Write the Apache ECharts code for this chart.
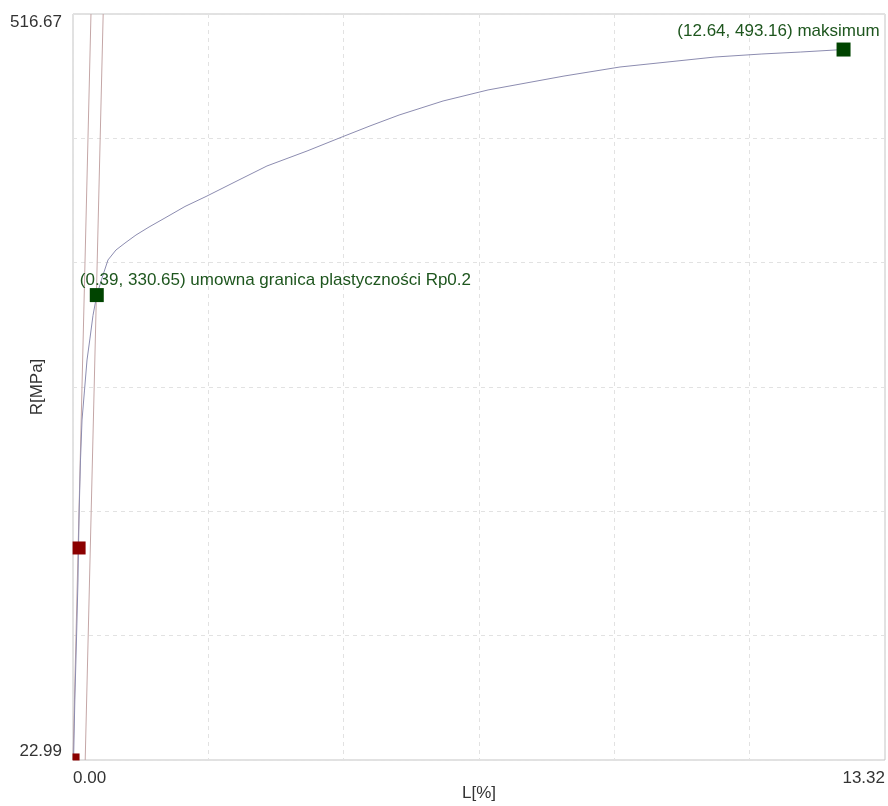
<!DOCTYPE html>
<html>
<head>
<meta charset="utf-8">
<title>R(L)</title>
<script src="https://cdn.jsdelivr.net/npm/echarts@6/dist/echarts.min.js"></script>
<style>
  html, body { margin: 0; padding: 0; background: #ffffff; }
  #chart { width: 888px; height: 806px; }
</style>
</head>
<body>
<div id="chart"></div>
<script>
// Tensile test curve: elongation L[%] vs stress R[MPa]
const strainPct = [0.01, 0.03, 0.057, 0.082, 0.09, 0.103, 0.123, 0.148, 0.189, 0.23, 0.279, 0.328, 0.39,
  0.492, 0.574, 0.705, 0.853, 1.033, 1.247, 1.509, 1.837, 2.182, 2.69, 3.182, 3.839, 4.413, 4.872, 5.348,
  6.07, 6.808, 8.054, 8.973, 10.53, 11.3, 11.93, 12.64];
const stressMPa = [24.3, 62.7, 102.4, 142.1, 163.9, 190.4, 221.5, 248.0, 267.8, 287.7, 302.2, 317.2, 330.65,
  343.9, 353.9, 360.5, 365.1, 370.4, 375.7, 381.7, 389.3, 395.9, 406.2, 416.1, 426.0, 435.3, 442.6, 449.8,
  459.1, 466.4, 475.6, 481.6, 488.2, 490.2, 491.5, 493.16];

// Elastic (modulus) line and the same line shifted by 0.2 %
const elasticX = [0.0, 0.295];
const elasticY = [22.99, 516.67];
const offsetX = [0.2, 0.495];
const offsetY = [22.99, 516.67];

// Characteristic points
const rpPoint = [0.39, 330.65];
const rpName = 'umowna granica plastyczności Rp0.2';
const maxPoint = [12.64, 493.16];
const maxName = 'maksimum';
const startPoints = [[0.10, 163.3], [0.05, 25.0]];

// Axis limits and tick labels
const xMin = 0, xMax = 13.32;
const yMin = 22.99, yMax = 516.67;
const xTickLabels = [0, 13.32];
const yTickLabels = [22.99, 516.67];
const xName = 'L[%]';
const yName = 'R[MPa]';

const FONT = 'Liberation Sans, Arial, Helvetica, sans-serif';
const FS = 17;
const pairs = (xs, ys) => xs.map((x, i) => [x, ys[i]]);
const fmtPoint = p => '(' + p[0].toFixed(2) + ', ' + p[1].toFixed(2) + ') ';

const chart = echarts.init(document.getElementById('chart'), null, { renderer: 'canvas' });

const dashed = { show: true, lineStyle: { color: '#e2e2e2', width: 1, type: [4, 4] } };

chart.setOption({
  animation: false,
  backgroundColor: '#ffffff',
  textStyle: { fontFamily: FONT },
  grid: {
    left: 73, top: 14, right: 3, bottom: 46,
    outerBoundsMode: 'none', containLabel: false,
    show: true, borderColor: '#c4c4c4', borderWidth: 1, backgroundColor: 'transparent'
  },
  xAxis: [{
    type: 'value', min: xMin, max: xMax, interval: (xMax - xMin) / 6,
    name: xName, nameLocation: 'middle', nameGap: 25, nameMoveOverlap: false,
    nameTextStyle: { fontSize: FS, color: '#333', fontFamily: FONT },
    axisLine: { show: false }, axisTick: { show: false },
    splitLine: dashed,
    axisLabel: {
      customValues: xTickLabels,
      formatter: v => v.toFixed(2),
      fontSize: FS, color: '#333', fontFamily: FONT, margin: 10,
      alignMinLabel: 'left', alignMaxLabel: 'right'
    }
  }],
  yAxis: [{
    type: 'value', min: yMin, max: yMax,
    name: yName, nameLocation: 'middle', nameGap: 27, nameMoveOverlap: false,
    nameTextStyle: { fontSize: FS, color: '#333', fontFamily: FONT },
    axisLine: { show: false }, axisTick: { show: false },
    splitLine: { show: false },
    axisLabel: {
      customValues: yTickLabels,
      formatter: v => v.toFixed(2),
      fontSize: FS, color: '#333', fontFamily: FONT, margin: 11,
      verticalAlignMinLabel: 'bottom', verticalAlignMaxLabel: 'top'
    }
  }, {
    // six equal bands for the horizontal grid
    type: 'value', min: 0, max: 6, interval: 1, position: 'left', offset: 0,
    axisLine: { show: false }, axisTick: { show: false }, axisLabel: { show: false },
    splitLine: dashed
  }],
  series: [
    {
      type: 'line', data: pairs(elasticX, elasticY), showSymbol: false, silent: true,
      lineStyle: { color: '#c4a6a6', width: 1 }, z: 2
    },
    {
      type: 'line', data: pairs(offsetX, offsetY), showSymbol: false, silent: true,
      lineStyle: { color: '#c4a6a6', width: 1 }, z: 2
    },
    {
      type: 'line', data: pairs(strainPct, stressMPa), showSymbol: false, silent: true,
      lineStyle: { color: '#8c8cb0', width: 1 }, z: 3
    },
    {
      type: 'scatter', symbol: 'rect', z: 4,
      itemStyle: { color: '#8b0000', opacity: 1 },
      data: [
        { value: startPoints[0], symbolSize: 13 },
        { value: startPoints[1], symbolSize: 7 }
      ]
    },
    {
      type: 'scatter', symbol: 'rect', symbolSize: 14, z: 5,
      itemStyle: { color: '#004400', opacity: 1 },
      label: { show: true, fontSize: FS, color: '#1e561e', fontFamily: FONT, opacity: 1 },
      data: [
        {
          value: rpPoint,
          label: { formatter: fmtPoint(rpPoint) + rpName, position: [-10, -8], align: 'left', verticalAlign: 'middle' }
        },
        {
          value: maxPoint,
          label: { formatter: fmtPoint(maxPoint) + maxName, position: [43, -11], align: 'right', verticalAlign: 'middle' }
        }
      ]
    }
  ]
});
</script>
</body>
</html>
